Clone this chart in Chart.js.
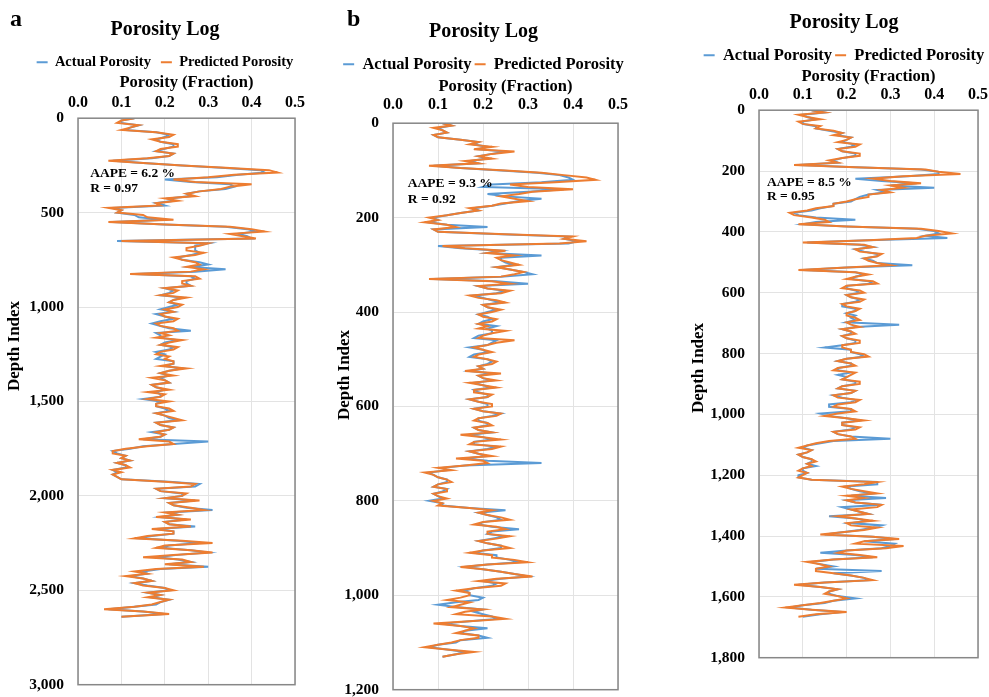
<!DOCTYPE html>
<html>
<head>
<meta charset="utf-8">
<script src="https://cdn.jsdelivr.net/npm/chart.js@4.4.1/dist/chart.umd.min.js"></script>
<style>
  body { margin: 0; background: #fff; width: 989px; height: 697px; position: relative; overflow: hidden; font-family: "Liberation Serif", serif; }
  .box { position: absolute; top: 0; }
  .tag { position: absolute; top: 6px; font-weight: bold; font-size: 24px; line-height: 24px; color: #000; z-index: 2; }
</style>
</head>
<body>
<div class="box" style="left:0;width:330px;height:708px"><canvas id="chartA"></canvas></div>
<div class="box" style="left:335px;width:297px;height:713px"><canvas id="chartB"></canvas></div>
<div class="box" style="left:688px;width:312px;height:681px"><canvas id="chartC"></canvas></div>
<div class="tag" style="left:10px">a</div>
<div class="tag" style="left:347px">b</div>
<script>
// panel a
const depthA = [0,12.5,25,37.5,50,62.5,75,87.5,100,112.5,125,137.5,150,162.5,175,187.5,200,212.5,225,237.5,250,262.5,275,287.5,300,312.5,325,337.5,350,362.5,375,387.5,400,412.5,425,437.5,450,462.5,475,487.5,500,512.5,525,537.5,550,562.5,575,587.5,600,612.5,625,637.5,650,662.5,675,687.5,700,712.5,725,737.5,750,762.5,775,787.5,800,812.5,825,837.5,850,862.5,875,887.5,900,912.5,925,937.5,950,962.5,975,987.5,1000,1012.5,1025,1037.5,1050,1062.5,1075,1087.5,1100,1112.5,1125,1137.5,1150,1162.5,1175,1187.5,1200,1212.5,1225,1237.5,1250,1262.5,1275,1287.5,1300,1312.5,1325,1337.5,1350,1362.5,1375,1387.5,1400,1412.5,1425,1437.5,1450,1462.5,1475,1487.5,1500,1512.5,1525,1537.5,1550,1562.5,1575,1587.5,1600,1612.5,1625,1637.5,1650,1662.5,1675,1687.5,1700,1712.5,1725,1737.5,1750,1762.5,1775,1787.5,1800,1812.5,1825,1837.5,1850,1862.5,1875,1887.5,1900,1912.5,1925,1937.5,1950,1962.5,1975,1987.5,2000,2012.5,2025,2037.5,2050,2062.5,2075,2087.5,2100,2112.5,2125,2137.5,2150,2162.5,2175,2187.5,2200,2212.5,2225,2237.5,2250,2262.5,2275,2287.5,2300,2312.5,2325,2337.5,2350,2362.5,2375,2387.5,2400,2412.5,2425,2437.5,2450,2462.5,2475,2487.5,2500,2512.5,2525,2537.5,2550,2562.5,2575,2587.5,2600,2612.5,2625,2640];
const predA = [0.13,0.10,0.09,0.14,0.12,0.10,0.18,0.22,0.21,0.17,0.19,0.23,0.23,0.19,0.18,0.22,0.21,0.16,0.07,0.15,0.24,0.34,0.44,0.46,0.36,0.30,0.22,0.27,0.40,0.35,0.33,0.28,0.25,0.27,0.20,0.23,0.18,0.19,0.07,0.10,0.09,0.15,0.16,0.22,0.07,0.20,0.35,0.40,0.43,0.35,0.38,0.41,0.10,0.30,0.28,0.25,0.25,0.29,0.27,0.22,0.24,0.27,0.28,0.25,0.29,0.26,0.12,0.27,0.28,0.24,0.24,0.26,0.20,0.23,0.22,0.19,0.25,0.22,0.21,0.24,0.23,0.20,0.22,0.19,0.20,0.23,0.22,0.18,0.19,0.22,0.23,0.19,0.21,0.18,0.24,0.21,0.19,0.23,0.22,0.19,0.18,0.21,0.20,0.22,0.22,0.19,0.25,0.21,0.19,0.22,0.17,0.20,0.21,0.17,0.18,0.21,0.16,0.20,0.19,0.16,0.21,0.18,0.18,0.21,0.22,0.18,0.20,0.22,0.24,0.18,0.19,0.22,0.21,0.18,0.20,0.19,0.14,0.21,0.22,0.16,0.11,0.08,0.08,0.11,0.10,0.12,0.09,0.11,0.12,0.08,0.10,0.08,0.09,0.10,0.20,0.27,0.26,0.18,0.19,0.25,0.24,0.20,0.28,0.21,0.22,0.26,0.29,0.20,0.23,0.18,0.26,0.20,0.21,0.26,0.17,0.22,0.22,0.16,0.13,0.24,0.31,0.20,0.18,0.26,0.31,0.22,0.15,0.24,0.26,0.20,0.29,0.18,0.13,0.16,0.11,0.15,0.17,0.13,0.15,0.20,0.22,0.16,0.19,0.16,0.21,0.19,0.17,0.13,0.06,0.15,0.21,0.10];
const actA = [0.13,0.10,0.10,0.14,0.12,0.11,0.18,0.21,0.20,0.18,0.19,0.22,0.22,0.20,0.18,0.22,0.21,0.17,0.08,0.15,0.24,0.33,0.42,0.43,0.37,0.32,0.20,0.26,0.35,0.36,0.34,0.28,0.25,0.26,0.21,0.22,0.18,0.20,0.08,0.10,0.09,0.13,0.14,0.20,0.08,0.20,0.34,0.39,0.41,0.37,0.39,0.40,0.09,0.30,0.27,0.27,0.27,0.28,0.26,0.23,0.24,0.28,0.30,0.26,0.34,0.27,0.13,0.26,0.27,0.25,0.25,0.26,0.20,0.22,0.21,0.19,0.24,0.22,0.21,0.23,0.21,0.19,0.22,0.18,0.20,0.22,0.19,0.17,0.19,0.21,0.26,0.18,0.19,0.19,0.23,0.20,0.19,0.22,0.21,0.18,0.20,0.19,0.18,0.22,0.22,0.20,0.24,0.21,0.19,0.21,0.19,0.20,0.21,0.17,0.18,0.20,0.18,0.19,0.19,0.15,0.19,0.18,0.18,0.20,0.21,0.18,0.20,0.21,0.23,0.18,0.19,0.22,0.21,0.17,0.20,0.19,0.15,0.30,0.22,0.15,0.12,0.08,0.09,0.11,0.10,0.12,0.09,0.11,0.11,0.08,0.09,0.08,0.09,0.10,0.21,0.28,0.27,0.18,0.19,0.24,0.24,0.20,0.27,0.21,0.22,0.25,0.31,0.21,0.23,0.19,0.25,0.20,0.21,0.27,0.18,0.22,0.22,0.17,0.14,0.23,0.28,0.21,0.19,0.26,0.30,0.23,0.18,0.23,0.26,0.21,0.30,0.19,0.15,0.16,0.12,0.15,0.17,0.13,0.16,0.20,0.21,0.16,0.19,0.17,0.21,0.19,0.18,0.13,0.07,0.15,0.20,0.10];

// panel b
const depthB = [0,5,10,15,20,25,30,35,40,45,50,55,60,65,70,75,80,85,90,95,100,105,110,115,120,125,130,135,140,145,150,155,160,165,170,175,180,185,190,195,200,205,210,215,220,225,230,235,240,245,250,255,260,265,270,275,280,285,290,295,300,305,310,315,320,325,330,335,340,345,350,355,360,365,370,375,380,385,390,395,400,405,410,415,420,425,430,435,440,445,450,455,460,465,470,475,480,485,490,495,500,505,510,515,520,525,530,535,540,545,550,555,560,565,570,575,580,585,590,595,600,605,610,615,620,625,630,635,640,645,650,655,660,665,670,675,680,685,690,695,700,705,710,715,720,725,730,735,740,745,750,755,760,765,770,775,780,785,790,795,800,805,810,815,820,825,830,835,840,845,850,855,860,865,870,875,880,885,890,895,900,905,910,915,920,925,930,935,940,945,950,955,960,965,970,975,980,985,990,995,1000,1005,1010,1015,1020,1025,1030,1035,1040,1045,1050,1055,1060,1065,1070,1075,1080,1085,1090,1095,1100,1105,1110,1115,1120,1125,1130];
const predB = [0.11,0.13,0.09,0.11,0.12,0.09,0.10,0.15,0.19,0.17,0.22,0.18,0.27,0.22,0.19,0.22,0.16,0.19,0.08,0.15,0.25,0.33,0.38,0.43,0.45,0.36,0.26,0.30,0.40,0.31,0.28,0.24,0.27,0.30,0.24,0.22,0.17,0.19,0.15,0.12,0.08,0.10,0.07,0.12,0.14,0.09,0.10,0.25,0.40,0.38,0.43,0.37,0.11,0.16,0.25,0.21,0.27,0.23,0.24,0.26,0.28,0.23,0.26,0.29,0.27,0.24,0.08,0.22,0.26,0.19,0.21,0.26,0.24,0.17,0.19,0.23,0.25,0.20,0.21,0.24,0.22,0.19,0.20,0.23,0.22,0.19,0.21,0.19,0.25,0.22,0.20,0.19,0.27,0.23,0.21,0.18,0.20,0.22,0.19,0.18,0.21,0.23,0.22,0.19,0.20,0.16,0.24,0.19,0.20,0.23,0.17,0.20,0.23,0.18,0.18,0.22,0.21,0.17,0.19,0.22,0.22,0.18,0.20,0.24,0.23,0.19,0.18,0.21,0.22,0.18,0.19,0.22,0.15,0.20,0.24,0.18,0.17,0.24,0.22,0.17,0.19,0.22,0.14,0.20,0.21,0.16,0.10,0.13,0.07,0.09,0.10,0.12,0.13,0.10,0.09,0.12,0.12,0.09,0.10,0.12,0.09,0.11,0.10,0.17,0.22,0.19,0.21,0.24,0.26,0.20,0.18,0.23,0.25,0.21,0.21,0.26,0.23,0.19,0.21,0.24,0.26,0.20,0.17,0.22,0.22,0.27,0.30,0.21,0.15,0.20,0.24,0.27,0.31,0.23,0.19,0.25,0.24,0.18,0.14,0.17,0.17,0.15,0.12,0.17,0.15,0.13,0.20,0.16,0.14,0.22,0.25,0.17,0.09,0.15,0.18,0.16,0.14,0.19,0.19,0.15,0.13,0.10,0.07,0.12,0.18,0.14,0.11];
const actB = [0.11,0.13,0.10,0.11,0.12,0.09,0.10,0.15,0.19,0.18,0.21,0.19,0.25,0.22,0.19,0.21,0.17,0.19,0.09,0.15,0.24,0.32,0.37,0.39,0.40,0.33,0.22,0.20,0.38,0.30,0.21,0.25,0.33,0.28,0.25,0.22,0.18,0.19,0.15,0.12,0.09,0.10,0.08,0.12,0.21,0.09,0.10,0.24,0.39,0.38,0.41,0.39,0.10,0.15,0.24,0.21,0.33,0.24,0.24,0.25,0.27,0.23,0.26,0.29,0.31,0.24,0.09,0.23,0.30,0.19,0.21,0.25,0.23,0.18,0.20,0.22,0.24,0.20,0.21,0.23,0.21,0.19,0.21,0.22,0.20,0.19,0.23,0.21,0.22,0.22,0.19,0.18,0.23,0.22,0.21,0.17,0.20,0.21,0.18,0.17,0.21,0.22,0.21,0.19,0.20,0.17,0.22,0.19,0.20,0.22,0.18,0.20,0.22,0.18,0.19,0.21,0.21,0.17,0.19,0.21,0.21,0.18,0.20,0.24,0.22,0.19,0.19,0.21,0.21,0.18,0.19,0.22,0.17,0.20,0.22,0.18,0.18,0.23,0.21,0.17,0.19,0.21,0.16,0.21,0.33,0.16,0.11,0.12,0.08,0.09,0.10,0.12,0.12,0.10,0.09,0.12,0.11,0.09,0.10,0.11,0.08,0.11,0.11,0.17,0.25,0.19,0.21,0.23,0.24,0.20,0.19,0.22,0.28,0.22,0.21,0.25,0.22,0.19,0.21,0.24,0.24,0.20,0.18,0.23,0.23,0.26,0.28,0.21,0.16,0.20,0.24,0.27,0.30,0.24,0.20,0.23,0.22,0.18,0.16,0.17,0.17,0.20,0.19,0.14,0.10,0.14,0.20,0.18,0.20,0.22,0.23,0.17,0.11,0.15,0.21,0.16,0.15,0.19,0.21,0.15,0.14,0.10,0.08,0.12,0.16,0.14,0.11];

// panel c
const depthC = [0,7.5,15,22.5,30,37.5,45,52.5,60,67.5,75,82.5,90,97.5,105,112.5,120,127.5,135,142.5,150,157.5,165,172.5,180,187.5,195,202.5,210,217.5,225,232.5,240,247.5,255,262.5,270,277.5,285,292.5,300,307.5,315,322.5,330,337.5,345,352.5,360,367.5,375,382.5,390,397.5,405,412.5,420,427.5,435,442.5,450,457.5,465,472.5,480,487.5,495,502.5,510,517.5,525,532.5,540,547.5,555,562.5,570,577.5,585,592.5,600,607.5,615,622.5,630,637.5,645,652.5,660,667.5,675,682.5,690,697.5,705,712.5,720,727.5,735,742.5,750,757.5,765,772.5,780,787.5,795,802.5,810,817.5,825,832.5,840,847.5,855,862.5,870,877.5,885,892.5,900,907.5,915,922.5,930,937.5,945,952.5,960,967.5,975,982.5,990,997.5,1005,1012.5,1020,1027.5,1035,1042.5,1050,1057.5,1065,1072.5,1080,1087.5,1095,1102.5,1110,1117.5,1125,1132.5,1140,1147.5,1155,1162.5,1170,1177.5,1185,1192.5,1200,1207.5,1215,1222.5,1230,1237.5,1245,1252.5,1260,1267.5,1275,1282.5,1290,1297.5,1305,1312.5,1320,1327.5,1335,1342.5,1350,1357.5,1365,1372.5,1380,1387.5,1395,1402.5,1410,1417.5,1425,1432.5,1440,1447.5,1455,1462.5,1470,1477.5,1485,1492.5,1500,1507.5,1515,1522.5,1530,1537.5,1545,1552.5,1560,1567.5,1575,1582.5,1590,1597.5,1605,1612.5,1620,1627.5,1635,1642.5,1650,1657.5,1665];
const predC = [0.12,0.15,0.09,0.11,0.14,0.09,0.10,0.14,0.13,0.17,0.19,0.17,0.21,0.20,0.18,0.23,0.22,0.18,0.19,0.23,0.23,0.19,0.16,0.18,0.08,0.22,0.38,0.41,0.46,0.33,0.26,0.30,0.37,0.30,0.33,0.28,0.30,0.25,0.25,0.22,0.20,0.17,0.17,0.13,0.11,0.07,0.08,0.12,0.15,0.16,0.09,0.20,0.37,0.41,0.44,0.38,0.36,0.25,0.10,0.24,0.26,0.22,0.23,0.28,0.27,0.24,0.25,0.27,0.30,0.20,0.09,0.22,0.25,0.22,0.20,0.26,0.27,0.20,0.19,0.23,0.24,0.20,0.21,0.24,0.23,0.19,0.20,0.23,0.22,0.20,0.20,0.22,0.23,0.20,0.21,0.23,0.19,0.21,0.22,0.19,0.20,0.23,0.23,0.19,0.19,0.21,0.21,0.24,0.25,0.20,0.18,0.21,0.22,0.18,0.17,0.22,0.21,0.20,0.19,0.23,0.23,0.19,0.18,0.22,0.21,0.17,0.18,0.23,0.22,0.18,0.17,0.21,0.22,0.18,0.15,0.20,0.24,0.19,0.19,0.23,0.22,0.17,0.18,0.21,0.22,0.16,0.13,0.11,0.09,0.12,0.11,0.09,0.10,0.12,0.13,0.11,0.12,0.10,0.09,0.11,0.10,0.09,0.12,0.27,0.24,0.19,0.21,0.24,0.27,0.20,0.24,0.20,0.22,0.28,0.27,0.21,0.23,0.25,0.18,0.22,0.26,0.20,0.21,0.27,0.24,0.19,0.14,0.26,0.32,0.24,0.22,0.33,0.29,0.20,0.18,0.23,0.27,0.17,0.11,0.14,0.16,0.13,0.13,0.17,0.21,0.24,0.26,0.15,0.08,0.14,0.18,0.16,0.15,0.18,0.20,0.17,0.14,0.10,0.06,0.12,0.20,0.13,0.09];
const actC = [0.12,0.15,0.10,0.11,0.13,0.10,0.10,0.13,0.13,0.16,0.19,0.18,0.21,0.20,0.19,0.22,0.21,0.18,0.19,0.22,0.22,0.19,0.17,0.18,0.09,0.22,0.37,0.41,0.41,0.34,0.22,0.28,0.36,0.30,0.40,0.27,0.29,0.25,0.23,0.22,0.21,0.17,0.17,0.14,0.12,0.08,0.09,0.13,0.22,0.13,0.10,0.20,0.36,0.40,0.41,0.38,0.43,0.25,0.11,0.23,0.26,0.22,0.24,0.27,0.27,0.24,0.26,0.27,0.35,0.20,0.10,0.22,0.24,0.22,0.21,0.25,0.26,0.20,0.20,0.22,0.23,0.20,0.21,0.23,0.22,0.19,0.19,0.22,0.22,0.20,0.22,0.21,0.22,0.20,0.32,0.22,0.19,0.21,0.21,0.19,0.20,0.22,0.22,0.19,0.15,0.21,0.21,0.23,0.24,0.20,0.18,0.21,0.21,0.18,0.18,0.21,0.18,0.20,0.19,0.22,0.22,0.19,0.18,0.22,0.21,0.17,0.19,0.22,0.21,0.16,0.16,0.21,0.21,0.14,0.16,0.20,0.23,0.19,0.19,0.22,0.21,0.17,0.18,0.21,0.30,0.17,0.14,0.11,0.10,0.12,0.11,0.09,0.10,0.12,0.12,0.11,0.13,0.10,0.10,0.11,0.09,0.09,0.12,0.27,0.27,0.20,0.21,0.23,0.26,0.21,0.29,0.20,0.22,0.28,0.19,0.21,0.23,0.25,0.16,0.22,0.25,0.21,0.28,0.26,0.23,0.19,0.15,0.26,0.31,0.24,0.31,0.30,0.28,0.20,0.14,0.22,0.26,0.17,0.12,0.14,0.17,0.13,0.28,0.17,0.21,0.24,0.25,0.15,0.09,0.14,0.18,0.16,0.16,0.18,0.22,0.17,0.15,0.10,0.07,0.12,0.19,0.14,0.10];

const xTicks = [0, 0.1, 0.2, 0.3, 0.4, 0.5];

Chart.defaults.font.family = "'Liberation Serif', 'Times New Roman', serif";
Chart.defaults.font.weight = "bold";
Chart.defaults.color = "#000";

const notePlugin = {
  id: "note",
  afterDatasetsDraw(chart, args, opts) {
    if (!opts.lines) return;
    const ctx = chart.ctx;
    const x = chart.scales.x.getPixelForValue(opts.x);
    ctx.save();
    ctx.font = "bold 13.5px 'Liberation Serif'";
    ctx.fillStyle = "#000";
    ctx.textBaseline = "middle";
    opts.lines.forEach((t, i) => {
      ctx.fillText(t, x, chart.scales.y.getPixelForValue(opts.y[i]));
    });
    ctx.restore();
  }
};

// rotated y axis title, placed like the original (not centred on the axis)
const yTitlePlugin = {
  id: "ytitle",
  afterDraw(chart, args, opts) {
    if (!opts.text) return;
    const ctx = chart.ctx;
    ctx.save();
    ctx.translate(opts.x, opts.y);
    ctx.rotate(-Math.PI / 2);
    ctx.font = "bold 17px 'Liberation Serif'";
    ctx.fillStyle = "#000";
    ctx.textAlign = "center";
    ctx.textBaseline = "middle";
    ctx.fillText(opts.text, 0, 0);
    ctx.restore();
  }
};

const framePlugin = {
  id: "frame",
  afterDatasetsDraw(chart) {
    const a = chart.chartArea;
    const ctx = chart.ctx;
    ctx.save();
    ctx.strokeStyle = "#878787";
    ctx.lineWidth = 1.5;
    ctx.strokeRect(a.left, a.top, a.right - a.left, a.bottom - a.top);
    ctx.restore();
  }
};

function pts(depth, vals) {
  return depth.map((d, i) => ({ x: vals[i], y: d }));
}

function makeChart(id, depth, act, pred, yMax, yStep, cfg) {
  return new Chart(document.getElementById(id), {
    type: "scatter",
    data: {
      datasets: [
        {
          label: "Actual Porosity",
          data: pts(depth, act),
          borderColor: "#5b9bd5",
          backgroundColor: "#5b9bd5",
          borderWidth: 2,
          showLine: true,
          pointRadius: 0,
          order: 1,
        },
        {
          label: "Predicted Porosity",
          data: pts(depth, pred),
          borderColor: "#ed7d31",
          backgroundColor: "#ed7d31",
          borderWidth: 2,
          showLine: true,
          pointRadius: 0,
          order: 0,
        },
      ],
    },
    options: {
      responsive: true,
      maintainAspectRatio: false,
      animation: false,
      layout: { padding: 0 },
      plugins: {
        title: {
          display: true,
          text: "Porosity Log",
          font: { size: 20, weight: "bold" },
          padding: cfg.titlePad,
        },
        legend: {
          position: "top",
          labels: {
            usePointStyle: true,
            pointStyle: "line",
            pointStyleWidth: 11,
            font: { size: cfg.legendSize, weight: "bold" },
            padding: cfg.legendGap,
            sort: (a, b) => a.datasetIndex - b.datasetIndex,
          },
        },
        tooltip: { enabled: false },
        note: cfg.note,
        ytitle: cfg.ytitle,
      },
      scales: {
        x: {
          type: "linear",
          position: "top",
          min: 0,
          max: 0.5,
          afterBuildTicks: (s) => { s.ticks = xTicks.map((v) => ({ value: v })); },
          afterFit: (s) => { s.paddingRight = cfg.rightPad; s.paddingLeft = 0; },
          ticks: { callback: (v) => Number(v).toFixed(1), font: { size: 16 }, padding: cfg.xTickPad },
          title: { display: true, text: "Porosity (Fraction)", font: { size: 16.5, lineHeight: 1 }, padding: cfg.xTitlePad },
          grid: { color: "#e3e3e3", drawTicks: false },
          border: { display: false },
        },
        y: {
          type: "linear",
          reverse: true,
          min: 0,
          max: yMax,
          afterFit: (s) => { s.width = cfg.yWidth; },
          ticks: { stepSize: yStep, font: { size: 15.5 }, padding: 14 },
          grid: { color: "#e3e3e3", drawTicks: false },
          border: { display: false },
        },
      },
    },
    plugins: [notePlugin, framePlugin, yTitlePlugin],
  });
}

makeChart("chartA", depthA, actA, predA, 3000, 500, {
  yWidth: 78,
  rightPad: 35,
  titlePad: { top: 18, bottom: 3 },
  legendSize: 14.5,
  legendGap: 10,
  xTitlePad: { top: -5, bottom: -4 },
  xTickPad: 6,
  note: { x: 0.028, y: [291, 370], lines: ["AAPE = 6.2 %", "R = 0.97"] },
  ytitle: { text: "Depth Index", x: 15, y: 346 },
});
makeChart("chartB", depthB, actB, predB, 1200, 200, {
  yWidth: 58,
  rightPad: 14,
  titlePad: { top: 20, bottom: 9 },
  legendSize: 16.5,
  legendGap: 3,
  xTitlePad: { top: -4, bottom: -9 },
  xTickPad: 9,
  note: { x: 0.033, y: [127, 161], lines: ["AAPE = 9.3 %", "R = 0.92"] },
  ytitle: { text: "Depth Index", x: 10, y: 375 },
});
makeChart("chartC", depthC, actC, predC, 1800, 200, {
  yWidth: 71,
  rightPad: 22,
  titlePad: { top: 11, bottom: 9 },
  legendSize: 16.5,
  legendGap: 3,
  xTitlePad: { top: -5, bottom: -6 },
  xTickPad: 6,
  note: { x: 0.018, y: [239, 285], lines: ["AAPE = 8.5 %", "R = 0.95"] },
  ytitle: { text: "Depth Index", x: 11, y: 368 },
});
</script>
</body>
</html>
